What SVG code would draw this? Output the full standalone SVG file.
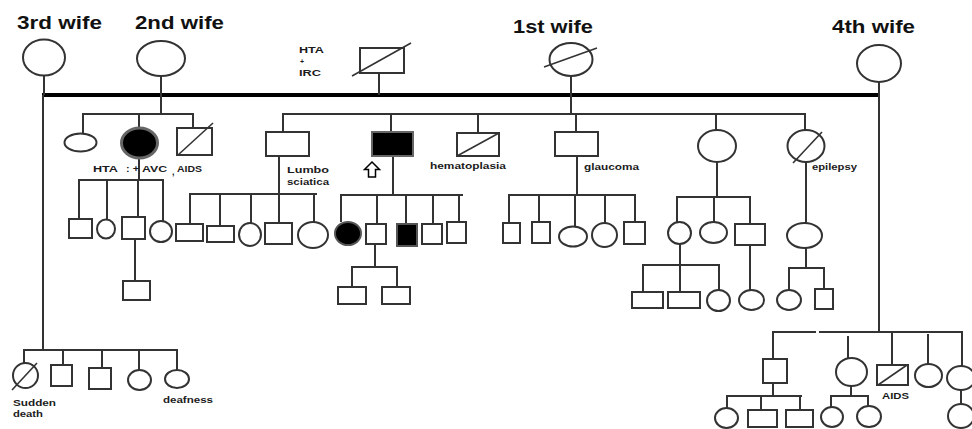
<svg xmlns="http://www.w3.org/2000/svg" width="972" height="429" viewBox="0 0 972 429">
<style>
.s{fill:#fff;stroke:#333;stroke-width:2}
.f{fill:#000;stroke:#555;stroke-width:2}
.sl{stroke:#333;stroke-width:1.6;fill:none}
.w{font-family:"Liberation Sans",Arial,sans-serif;font-weight:bold;font-size:18px;fill:#111}
.t{font-family:"Liberation Sans",Arial,sans-serif;font-weight:bold;font-size:9px;fill:#1b1b1b}
#connectors line{stroke:#333;stroke-width:2}
</style>
<rect width="972" height="429" fill="#fff"/>
<g id="connectors">
<line x1="42" y1="95" x2="460" y2="95" style="stroke:#000;stroke-width:4.2"/>
<line x1="458" y1="95" x2="878" y2="95" style="stroke:#000;stroke-width:3.8"/>
<line x1="44" y1="76" x2="44" y2="95"/>
<line x1="43" y1="95" x2="43" y2="351"/>
<line x1="161" y1="76" x2="161" y2="114"/>
<line x1="379" y1="73" x2="379" y2="95"/>
<line x1="571" y1="76" x2="571" y2="114"/>
<line x1="879" y1="82" x2="879" y2="333"/>
<line x1="82" y1="114" x2="194" y2="114"/>
<line x1="83" y1="114" x2="83" y2="133"/>
<line x1="139" y1="114" x2="139" y2="128"/>
<line x1="193" y1="114" x2="193" y2="128"/>
<line x1="139" y1="158" x2="139" y2="180"/>
<line x1="78" y1="180" x2="164" y2="180"/>
<line x1="79" y1="180" x2="79" y2="219"/>
<line x1="107" y1="180" x2="107" y2="220"/>
<line x1="138" y1="180" x2="138" y2="217"/>
<line x1="163" y1="180" x2="163" y2="221"/>
<line x1="135" y1="239" x2="135" y2="281"/>
<line x1="282" y1="114" x2="806" y2="114"/>
<line x1="283" y1="114" x2="283" y2="132"/>
<line x1="391" y1="114" x2="391" y2="132"/>
<line x1="478" y1="114" x2="478" y2="133"/>
<line x1="576" y1="114" x2="576" y2="132"/>
<line x1="716" y1="114" x2="716" y2="130"/>
<line x1="805" y1="114" x2="805" y2="130"/>
<line x1="279" y1="156" x2="279" y2="194"/>
<line x1="189" y1="194" x2="317" y2="194"/>
<line x1="190" y1="194" x2="190" y2="224"/>
<line x1="220" y1="194" x2="220" y2="226"/>
<line x1="251" y1="194" x2="251" y2="223"/>
<line x1="279" y1="194" x2="279" y2="223"/>
<line x1="314" y1="194" x2="314" y2="222"/>
<line x1="393" y1="156" x2="393" y2="195"/>
<line x1="340" y1="195" x2="463" y2="195"/>
<line x1="341" y1="195" x2="341" y2="222"/>
<line x1="377" y1="195" x2="377" y2="224"/>
<line x1="406" y1="195" x2="406" y2="224"/>
<line x1="433" y1="195" x2="433" y2="224"/>
<line x1="459" y1="195" x2="459" y2="222"/>
<line x1="375" y1="244" x2="375" y2="267"/>
<line x1="351" y1="267" x2="398" y2="267"/>
<line x1="352" y1="267" x2="352" y2="287"/>
<line x1="397" y1="267" x2="397" y2="287"/>
<line x1="577" y1="156" x2="577" y2="195"/>
<line x1="508" y1="195" x2="636" y2="195"/>
<line x1="509" y1="195" x2="509" y2="223"/>
<line x1="539" y1="195" x2="539" y2="222"/>
<line x1="575" y1="195" x2="575" y2="227"/>
<line x1="605" y1="195" x2="605" y2="223"/>
<line x1="635" y1="195" x2="635" y2="222"/>
<line x1="717" y1="162" x2="717" y2="197"/>
<line x1="676" y1="197" x2="751" y2="197"/>
<line x1="677" y1="197" x2="677" y2="222"/>
<line x1="714" y1="197" x2="714" y2="222"/>
<line x1="750" y1="197" x2="750" y2="224"/>
<line x1="680" y1="244" x2="680" y2="265"/>
<line x1="642" y1="265" x2="720" y2="265"/>
<line x1="643" y1="265" x2="643" y2="292"/>
<line x1="680" y1="265" x2="680" y2="292"/>
<line x1="719" y1="265" x2="719" y2="290"/>
<line x1="750" y1="245" x2="750" y2="290"/>
<line x1="806" y1="162" x2="806" y2="223"/>
<line x1="806" y1="248" x2="806" y2="268"/>
<line x1="788" y1="268" x2="825" y2="268"/>
<line x1="789" y1="268" x2="789" y2="290"/>
<line x1="824" y1="268" x2="824" y2="289"/>
<line x1="23" y1="350" x2="178" y2="350"/>
<line x1="24" y1="350" x2="24" y2="363"/>
<line x1="63" y1="350" x2="63" y2="365"/>
<line x1="102" y1="350" x2="102" y2="368"/>
<line x1="139" y1="350" x2="139" y2="370"/>
<line x1="177" y1="350" x2="177" y2="370"/>
<line x1="772" y1="332" x2="816" y2="332"/>
<line x1="819" y1="332" x2="963" y2="332"/>
<line x1="773" y1="332" x2="773" y2="359"/>
<line x1="848" y1="336" x2="848" y2="358"/>
<line x1="892" y1="332" x2="892" y2="365"/>
<line x1="928" y1="334" x2="928" y2="364"/>
<line x1="962" y1="332" x2="962" y2="366"/>
<line x1="773" y1="383" x2="773" y2="396"/>
<line x1="726" y1="396" x2="802" y2="396"/>
<line x1="727" y1="396" x2="727" y2="408"/>
<line x1="761" y1="396" x2="761" y2="410"/>
<line x1="800" y1="396" x2="800" y2="410"/>
<line x1="851" y1="386" x2="851" y2="396"/>
<line x1="830" y1="396" x2="869" y2="396"/>
<line x1="831" y1="396" x2="831" y2="407"/>
<line x1="868" y1="396" x2="868" y2="406"/>
<line x1="961" y1="390" x2="961" y2="404"/>
</g>
<g id="wife3"><text class="w" x="17" y="29" textLength="85" lengthAdjust="spacingAndGlyphs">3rd wife</text><ellipse class="s" cx="44" cy="57.5" rx="21" ry="18"/></g>
<g id="wife2"><text class="w" x="135" y="29" textLength="89" lengthAdjust="spacingAndGlyphs">2nd wife</text><ellipse class="s" cx="161" cy="58.5" rx="24" ry="17.5"/></g>
<g id="father"><rect class="s" x="360" y="48" width="44" height="25"/><line class="sl" x1="352" y1="76" x2="411" y2="43"/>
<text class="t" x="299" y="53" textLength="25" lengthAdjust="spacingAndGlyphs">HTA</text><text class="t" x="300" y="64" style="font-size:7px">+</text><text class="t" x="299" y="76" textLength="22" lengthAdjust="spacingAndGlyphs">IRC</text></g>
<g id="wife1"><text class="w" x="513" y="33" textLength="80" lengthAdjust="spacingAndGlyphs">1st wife</text><ellipse class="s" cx="571" cy="59.5" rx="21.5" ry="16.5"/><line class="sl" x1="544" y1="67" x2="597" y2="48"/></g>
<g id="wife4"><text class="w" x="832" y="33" textLength="83" lengthAdjust="spacingAndGlyphs">4th wife</text><ellipse class="s" cx="879" cy="63.5" rx="22" ry="18.5"/></g>
<g id="c2-1"><ellipse class="s" cx="80.5" cy="142.5" rx="16" ry="9"/></g>
<g id="c2-2"><ellipse class="f" cx="139.5" cy="143" rx="18" ry="15" style="stroke:#666;stroke-width:3"/>
<text class="t" x="93" y="172" textLength="25" lengthAdjust="spacingAndGlyphs">HTA</text><text class="t" x="126" y="172" textLength="13" lengthAdjust="spacingAndGlyphs">: +</text><text class="t" x="142" y="172" textLength="25" lengthAdjust="spacingAndGlyphs">AVC</text><text class="t" x="172" y="175">,</text></g>
<g id="c2-3"><rect class="s" x="177" y="128" width="35" height="27"/><line class="sl" x1="178" y1="155" x2="213" y2="123"/><text class="t" x="177" y="172" textLength="25" lengthAdjust="spacingAndGlyphs">AIDS</text></g>
<g id="g2-1"><rect class="s" x="69" y="219" width="23" height="19"/></g>
<g id="g2-2"><ellipse class="s" cx="106" cy="229" rx="9" ry="9.5"/></g>
<g id="g2-3"><rect class="s" x="122" y="217" width="23" height="22"/></g>
<g id="g2-4"><ellipse class="s" cx="161" cy="231.5" rx="11" ry="10.5"/></g>
<g id="gg2-1"><rect class="s" x="123" y="281" width="27" height="19"/></g>
<g id="c1-1"><rect class="s" x="266" y="132" width="43" height="24"/><text class="t" x="287" y="173" textLength="42" lengthAdjust="spacingAndGlyphs">Lumbo</text><text class="t" x="287" y="185" textLength="42" lengthAdjust="spacingAndGlyphs">sciatica</text></g>
<g id="proband"><rect class="f" x="372" y="132" width="41" height="24" style="stroke:#666"/><polygon points="372,162 379.5,169.5 375.5,169.5 375.5,177 368.5,177 368.5,169.5 364.5,169.5" fill="#fff" stroke="#000" stroke-width="1.5"/></g>
<g id="c1-3"><rect class="s" x="457" y="133" width="42" height="23"/><line class="sl" x1="457" y1="156" x2="499" y2="133"/><text class="t" x="430" y="169" textLength="76" lengthAdjust="spacingAndGlyphs">hematoplasia</text></g>
<g id="c1-4"><rect class="s" x="555" y="132" width="43" height="24"/><text class="t" x="584" y="170" textLength="55" lengthAdjust="spacingAndGlyphs">glaucoma</text></g>
<g id="c1-5"><ellipse class="s" cx="717" cy="146" rx="19" ry="16"/></g>
<g id="c1-6"><ellipse class="s" cx="806" cy="146" rx="18.5" ry="16"/><line class="sl" x1="793" y1="163" x2="822" y2="132"/><text class="t" x="812" y="170" textLength="45" lengthAdjust="spacingAndGlyphs">epilepsy</text></g>
<g id="l-1"><rect class="s" x="176" y="224" width="27" height="17"/></g>
<g id="l-2"><rect class="s" x="207" y="226" width="27" height="16"/></g>
<g id="l-3"><ellipse class="s" cx="250" cy="234.5" rx="11" ry="11.5"/></g>
<g id="l-4"><rect class="s" x="265" y="223" width="27" height="21"/></g>
<g id="l-5"><ellipse class="s" cx="313" cy="235" rx="15" ry="13"/></g>
<g id="p-1"><ellipse class="f" cx="348" cy="233.5" rx="13" ry="11.5"/></g>
<g id="p-2"><rect class="s" x="366" y="224" width="20" height="20"/></g>
<g id="p-3"><rect class="f" x="397" y="224" width="20" height="22"/></g>
<g id="p-4"><rect class="s" x="422" y="224" width="20" height="20"/></g>
<g id="p-5"><rect class="s" x="447" y="222" width="19" height="21"/></g>
<g id="pg-1"><rect class="s" x="338" y="287" width="28" height="17"/></g>
<g id="pg-2"><rect class="s" x="382" y="287" width="28" height="17"/></g>
<g id="gl-1"><rect class="s" x="503" y="223" width="17" height="20"/></g>
<g id="gl-2"><rect class="s" x="532" y="222" width="18" height="21"/></g>
<g id="gl-3"><ellipse class="s" cx="573" cy="236.5" rx="14" ry="10"/></g>
<g id="gl-4"><ellipse class="s" cx="604.5" cy="235" rx="12.5" ry="12"/></g>
<g id="gl-5"><rect class="s" x="624" y="222" width="21" height="22"/></g>
<g id="d5-1"><ellipse class="s" cx="679.5" cy="233" rx="11.5" ry="11"/></g>
<g id="d5-2"><ellipse class="s" cx="713.5" cy="232.5" rx="13.5" ry="10.5"/></g>
<g id="d5-3"><rect class="s" x="735" y="224" width="30" height="21"/></g>
<g id="d5g-1"><rect class="s" x="632" y="292" width="31" height="16"/></g>
<g id="d5g-2"><rect class="s" x="668" y="292" width="32" height="16"/></g>
<g id="d5g-3"><ellipse class="s" cx="718.5" cy="300.5" rx="11.5" ry="10.5"/></g>
<g id="d5g-4"><ellipse class="s" cx="751.5" cy="300" rx="12.5" ry="10"/></g>
<g id="e-1"><ellipse class="s" cx="804.5" cy="235.5" rx="17.5" ry="12.5"/></g>
<g id="eg-1"><ellipse class="s" cx="789" cy="300" rx="12" ry="10"/></g>
<g id="eg-2"><rect class="s" x="815" y="289" width="18" height="20"/></g>
<g id="c3-1"><ellipse class="s" cx="25.5" cy="375.5" rx="12.5" ry="12.5"/><line class="sl" x1="12" y1="390" x2="37" y2="363"/><text class="t" x="13" y="406" textLength="43" lengthAdjust="spacingAndGlyphs">Sudden</text><text class="t" x="13" y="417" textLength="30" lengthAdjust="spacingAndGlyphs">death</text></g>
<g id="c3-2"><rect class="s" x="51" y="365" width="21" height="21"/></g>
<g id="c3-3"><rect class="s" x="89" y="368" width="22" height="21"/></g>
<g id="c3-4"><ellipse class="s" cx="139.5" cy="380" rx="11.5" ry="10"/></g>
<g id="c3-5"><ellipse class="s" cx="177" cy="379" rx="12" ry="9"/><text class="t" x="163" y="403" textLength="50" lengthAdjust="spacingAndGlyphs">deafness</text></g>
<g id="c4-1"><rect class="s" x="763" y="359" width="24" height="24"/></g>
<g id="c4-2"><ellipse class="s" cx="851.5" cy="372" rx="15.5" ry="14"/></g>
<g id="c4-3"><rect class="s" x="877" y="365" width="31" height="20"/><line class="sl" x1="878" y1="385" x2="907" y2="365"/><text class="t" x="882" y="399" textLength="27" lengthAdjust="spacingAndGlyphs">AIDS</text></g>
<g id="c4-4"><ellipse class="s" cx="928.5" cy="375.5" rx="13.5" ry="11.5"/></g>
<g id="c4-5"><ellipse class="s" cx="961" cy="378" rx="14" ry="12"/></g>
<g id="c4g-1"><ellipse class="s" cx="726.5" cy="418" rx="11.5" ry="10"/></g>
<g id="c4g-2"><rect class="s" x="748" y="410" width="29" height="17"/></g>
<g id="c4g-3"><rect class="s" x="786" y="410" width="27" height="17"/></g>
<g id="c4g-4"><ellipse class="s" cx="832" cy="417" rx="11" ry="10"/></g>
<g id="c4g-5"><ellipse class="s" cx="869" cy="416.5" rx="12" ry="10.5"/></g>
<g id="c4g-6"><ellipse class="s" cx="961" cy="416" rx="13" ry="12"/></g>
</svg>
